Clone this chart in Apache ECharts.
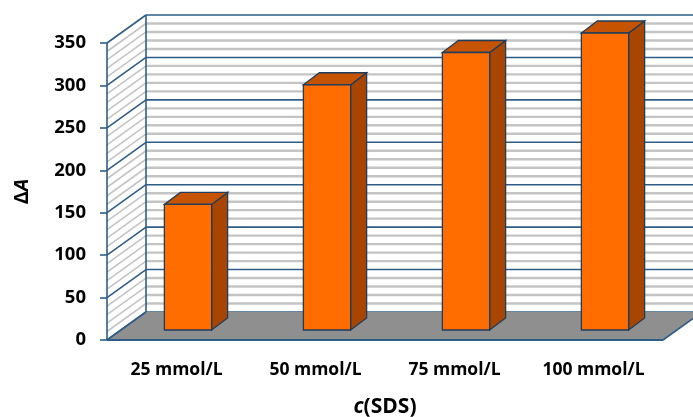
<!DOCTYPE html>
<html>
<head>
<meta charset="utf-8">
<script src="https://cdn.jsdelivr.net/npm/echarts@6/dist/echarts.min.js"></script>
<style>
  html, body { margin: 0; padding: 0; background: #ffffff; }
  #chart { width: 693px; height: 417px; }
</style>
</head>
<body>
<div id="chart"></div>
<script>
// SDS concentration groups and the measured ΔA for each
const categories = ['25 mmol/L', '50 mmol/L', '75 mmol/L', '100 mmol/L'];
const deltaA = [148, 289, 327, 350];

// Value axis ticks
const yMin = 0;
const yMax = 350;
const yStep = 50;
const yMinorStep = 10;

// Oblique 3D projection: depth of the walls and placement of the columns
const WALL_DX = 39, WALL_DY = -28;
const BAR_FRONT_DX = 11.5, BAR_FRONT_DY = -10;
const BAR_DEPTH_DX = 16, BAR_DEPTH_DY = -12;
const BAR_WIDTH_RATIO = 0.34;

const EDGE_BLUE = '#2f5d88';
const MINOR_GREY = '#c4c4c4';
const FLOOR_GREY = '#8f8f8f';
const FONT = '"Open Sans", Lato, sans-serif';

const chart = echarts.init(document.getElementById('chart'), null, { renderer: 'canvas' });

function line(x1, y1, x2, y2, stroke, width) {
  return {
    type: 'line',
    shape: { x1: x1, y1: y1, x2: x2, y2: y2 },
    style: { stroke: stroke, lineWidth: width },
    silent: true
  };
}

function poly(points, fill, stroke, width) {
  return {
    type: 'polygon',
    shape: { points: points },
    style: { fill: fill, stroke: stroke || null, lineWidth: width || 0 },
    silent: true
  };
}

// Back wall, side wall and floor of the 3D box
function renderFrame(params, api) {
  const cs = params.coordSys;
  const x0 = cs.x, x1 = cs.x + cs.width;
  const yAt = v => api.coord([0, v])[1];
  const yTop = yAt(yMax), yBot = yAt(yMin);
  const children = [];

  // back wall
  children.push(poly([[x0 + WALL_DX, yTop + WALL_DY], [x1 + WALL_DX, yTop + WALL_DY],
    [x1 + WALL_DX, yBot + WALL_DY], [x0 + WALL_DX, yBot + WALL_DY]], '#ffffff'));
  // side wall
  children.push(poly([[x0, yTop], [x0 + WALL_DX, yTop + WALL_DY],
    [x0 + WALL_DX, yBot + WALL_DY], [x0, yBot]], '#ffffff'));

  // minor gridlines
  for (let v = yMin; v <= yMax; v += yMinorStep) {
    if (v % yStep === 0) continue;
    const y = yAt(v);
    children.push(line(x0 + WALL_DX, y + WALL_DY, x1 + WALL_DX, y + WALL_DY, MINOR_GREY, 2.4));
    children.push(line(x0, y, x0 + WALL_DX, y + WALL_DY, MINOR_GREY, 1.6));
  }
  // major gridlines
  for (let v = yMin; v <= yMax; v += yStep) {
    const y = yAt(v);
    children.push(line(x0 + WALL_DX, y + WALL_DY, x1 + WALL_DX, y + WALL_DY, EDGE_BLUE, 1.6));
    children.push(line(x0, y, x0 + WALL_DX, y + WALL_DY, EDGE_BLUE, 1.6));
  }
  // wall corner edges
  children.push(line(x0 + WALL_DX, yTop + WALL_DY, x0 + WALL_DX, yBot + WALL_DY, EDGE_BLUE, 1.6));
  children.push(line(x0, yTop, x0, yBot, EDGE_BLUE, 1.6));

  // floor
  children.push(poly([[x0, yBot], [x1, yBot], [x1 + WALL_DX, yBot + WALL_DY], [x0 + WALL_DX, yBot + WALL_DY]], FLOOR_GREY));
  children.push(line(x0, yBot, x1, yBot, EDGE_BLUE, 2));
  children.push(line(x0, yBot, x0 + WALL_DX, yBot + WALL_DY, EDGE_BLUE, 1.6));
  children.push(line(x1, yBot, x1 + WALL_DX, yBot + WALL_DY, EDGE_BLUE, 1.6));

  return { type: 'group', children: children };
}

// One 3D column: front face, top and right side
function renderColumn(params, api) {
  const idx = api.value(0);
  const val = api.value(1);
  const base = api.coord([idx, yMin]);
  const top = api.coord([idx, val]);
  const bw = api.size([1, 0])[0] * BAR_WIDTH_RATIO;
  const xl = base[0] + BAR_FRONT_DX - bw / 2;
  const xr = xl + bw;
  const yt = top[1] + BAR_FRONT_DY;
  const yb = base[1] + BAR_FRONT_DY;
  const ddx = BAR_DEPTH_DX, ddy = BAR_DEPTH_DY;
  const edge = '#1f3d5c';
  return {
    type: 'group',
    children: [
      poly([[xr, yt], [xr + ddx, yt + ddy], [xr + ddx, yb + ddy], [xr, yb]], '#a84500', edge, 1.3),
      poly([[xl, yt], [xr, yt], [xr + ddx, yt + ddy], [xl + ddx, yt + ddy]], '#c65300', edge, 1.3),
      poly([[xl, yt], [xr, yt], [xr, yb], [xl, yb]], '#ff6c00', edge, 1.3)
    ]
  };
}

const option = {
  backgroundColor: '#ffffff',
  animation: false,
  grid: { left: 107, right: 30, top: 43, bottom: 77, containLabel: false, outerBoundsMode: 'none' },
  xAxis: {
    type: 'category',
    data: categories,
    name: '{i|c}{n|(SDS)}',
    nameLocation: 'middle',
    nameGap: 57,
    nameTextStyle: {
      rich: {
        i: { fontFamily: FONT, fontWeight: 'bold', fontStyle: 'italic', fontSize: 21, color: '#000' },
        n: { fontFamily: FONT, fontWeight: 'bold', fontSize: 21, color: '#000' }
      }
    },
    axisLine: { show: false },
    axisTick: { show: false },
    axisLabel: { margin: 21, fontFamily: FONT, fontWeight: 'bold', fontSize: 17.5, color: '#000' },
    splitLine: { show: false }
  },
  yAxis: {
    type: 'value',
    min: yMin,
    max: yMax,
    interval: yStep,
    name: '{n|Δ}{i|A}',
    nameLocation: 'middle',
    nameRotate: 90,
    nameGap: 75,
    nameTextStyle: {
      rich: {
        i: { fontFamily: FONT, fontWeight: 'bold', fontStyle: 'italic', fontSize: 20, color: '#000' },
        n: { fontFamily: FONT, fontWeight: 'bold', fontSize: 20, color: '#000' }
      }
    },
    axisLine: { show: false },
    axisTick: { show: true, inside: false, length: 7, lineStyle: { color: EDGE_BLUE, width: 1.6 } },
    axisLabel: { margin: 21, padding: [4, 0, 0, 0], fontFamily: FONT, fontWeight: 'bold', fontSize: 18.5, color: '#000' },
    splitLine: { show: false }
  },
  series: [
    {
      type: 'custom',
      name: 'frame',
      renderItem: renderFrame,
      data: [[0, 0]],
      z: 1,
      silent: true
    },
    {
      type: 'custom',
      name: 'ΔA',
      renderItem: renderColumn,
      encode: { x: 0, y: 1 },
      data: deltaA.map((v, i) => [i, v]),
      z: 3
    }
  ]
};

chart.setOption(option);
</script>
</body>
</html>
